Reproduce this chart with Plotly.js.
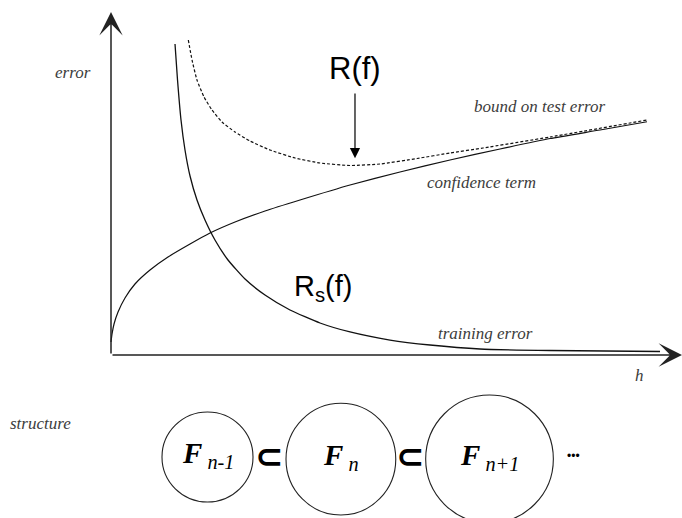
<!DOCTYPE html>
<html>
<head>
<meta charset="utf-8">
<script src="https://cdn.plot.ly/plotly-3.0.1.min.js"></script>
<style>html,body{margin:0;padding:0;background:#fff;}#chart{width:682px;height:518px;}</style>
</head>
<body>
<div id="chart"></div>
<script>
// model complexity h (x) vs error (y), in arbitrary units 0..100
const trainH   = [11.21, 11.65, 12.26, 12.96, 13.84, 15.06, 16.46, 18.21, 20.49, 23.47, 26.97, 31.35, 36.60, 41.86, 48.86, 55.87, 64.62, 76.88, 96.15];
const trainErr = [90.67, 80.17, 68.51, 59.77, 52.19, 45.19, 39.36, 33.53, 27.70, 22.16, 17.49, 13.12, 9.33, 6.71, 4.37, 2.92, 1.75, 1.31, 1.02];

const confH    = [0, 0.18, 0.53, 1.23, 2.45, 4.20, 6.83, 9.98, 13.84, 17.34, 21.72, 26.97, 33.10, 41.86, 50.61, 59.37, 68.13, 76.88, 85.64, 93.87];
const confTerm = [3.79, 6.12, 9.04, 12.54, 16.62, 20.70, 24.78, 28.57, 32.36, 35.57, 38.78, 41.98, 45.19, 49.56, 53.35, 56.85, 60.06, 63.12, 65.60, 68.00];

const boundH   = [13.54, 14.19, 15.06, 16.29, 17.69, 19.44, 21.72, 24.34, 27.85, 32.22, 36.60, 41.86, 47.11, 53.59, 59.37, 65.15, 76.88, 93.87];
const boundErr = [91.84, 86.01, 80.17, 75.22, 71.43, 67.93, 65.01, 62.39, 59.77, 57.43, 55.98, 55.25, 55.69, 57.29, 58.89, 60.35, 63.56, 68.51];

// minimum of the bound, pointed at by R(f)
const minH = 42.73, minErr = 57.35;

// structure of nested function classes
const structLabels = ['<b><i>F</i></b><sub><i> n-1</i></sub>', '<b><i>F</i></b><sub><i> n</i></sub>', '<b><i>F</i></b><sub><i> n+1</i></sub>'];
const structCx = [16.90, 40.26, 66.29];
const structCy = [-29.74, -30.37, -30.32];
const structRx = [7.97, 9.61, 11.18];
const structRy = [13.12, 16.29, 18.66];

const labelFont = {family: 'Liberation Serif, Times New Roman, serif', size: 17, color: '#3c3c3c'};
const bigFont = {family: 'Liberation Sans, Arial, sans-serif', size: 31, color: '#000'};

const traces = [
  {x: confH, y: confTerm, mode: 'lines', line: {color: '#111', width: 1.2, shape: 'spline', smoothing: 0.5}},
  {x: trainH, y: trainErr, mode: 'lines', line: {color: '#111', width: 1.3, shape: 'spline', smoothing: 0.5}},
  {x: boundH, y: boundErr, mode: 'lines', line: {color: '#111', width: 1.2, dash: '3px,2px', shape: 'spline', smoothing: 0.5}}
];

const shapes = structCx.map((cx, i) => ({
  type: 'circle', xref: 'x', yref: 'y',
  x0: cx - structRx[i], x1: cx + structRx[i],
  y0: structCy[i] - structRy[i], y1: structCy[i] + structRy[i],
  line: {color: '#222', width: 1.1}
}));

const ann = [
  // axes with arrow heads
  {xref: 'x', yref: 'y', axref: 'x', ayref: 'y', x: 0, y: 100, ax: 0, ay: 0, text: '', showarrow: true, arrowhead: 3, arrowsize: 2.6, arrowwidth: 1.5, arrowcolor: '#222'},
  {xref: 'x', yref: 'y', axref: 'x', ayref: 'y', x: 100, y: 0, ax: 0, ay: 0, text: '', showarrow: true, arrowhead: 3, arrowsize: 2.6, arrowwidth: 1.5, arrowcolor: '#222'},
  // R(f) arrow
  {xref: 'x', yref: 'y', axref: 'x', ayref: 'y', x: minH, y: minErr, ax: minH, ay: 76.68, text: '', showarrow: true, arrowhead: 2, arrowsize: 1.7, arrowwidth: 1.2, arrowcolor: '#000'},
  {xref: 'x', yref: 'y', x: 42.73, y: 83.4, text: 'R(f)', showarrow: false, font: bigFont},
  {xref: 'x', yref: 'y', x: 37.2, y: 19.6, text: 'R<sub>s</sub>(f)', showarrow: false, font: {family: bigFont.family, size: 29, color: '#000'}},
  {xref: 'x', yref: 'y', x: -6.74, y: 82.51, text: '<i>error</i>', showarrow: false, font: labelFont},
  {xref: 'x', yref: 'y', x: 75.13, y: 72.59, text: '<i>bound on test error</i>', showarrow: false, font: labelFont},
  {xref: 'x', yref: 'y', x: 64.80, y: 50.15, text: '<i>confidence term</i>', showarrow: false, font: labelFont},
  {xref: 'x', yref: 'y', x: 65.67, y: 6.41, text: '<i>training error</i>', showarrow: false, font: labelFont},
  {xref: 'x', yref: 'y', x: 92.64, y: -5.83, text: '<i>h</i>', showarrow: false, font: labelFont},
  {xref: 'x', yref: 'y', x: -12.43, y: -19.83, text: '<i>structure</i>', showarrow: false, font: labelFont}
];

structLabels.forEach((t, i) => {
  ann.push({xref: 'x', yref: 'y', x: structCx[i], y: structCy[i] + 0.6, text: t, showarrow: false,
    font: {family: 'Liberation Serif, Times New Roman, serif', size: 29, color: '#000'}});
  if (i < structLabels.length - 1) {
    const gx = ((structCx[i] + structRx[i]) + (structCx[i + 1] - structRx[i + 1])) / 2;
    ann.push({xref: 'x', yref: 'y', x: gx, y: -29.4, text: '<b>⊂</b>', showarrow: false,
      font: {family: 'DejaVu Sans, sans-serif', size: 34, color: '#000'}});
  }
});
ann.push({xref: 'x', yref: 'y', x: 81.0, y: -29.45, text: '•••', showarrow: false,
  font: {family: 'Liberation Sans, Arial, sans-serif', size: 12, color: '#000'}});

const layout = {
  width: 682, height: 518,
  margin: {l: 0, r: 0, t: 0, b: 0, pad: 0},
  paper_bgcolor: '#fff', plot_bgcolor: '#fff',
  showlegend: false, hovermode: false,
  xaxis: {range: [-19.44, 100], visible: false, fixedrange: true},
  yaxis: {range: [-47.52, 103.5], visible: false, fixedrange: true},
  shapes: shapes,
  annotations: ann
};

Plotly.newPlot('chart', traces, layout, {staticPlot: true, displayModeBar: false});
</script>
</body>
</html>
